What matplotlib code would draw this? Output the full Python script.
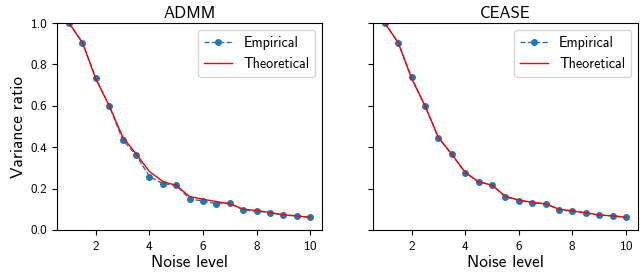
import numpy as np
import matplotlib
matplotlib.use("Agg")
import matplotlib.pyplot as plt

plt.rcParams['font.family'] = ['cmss10', 'DejaVu Sans']
plt.rcParams['axes.formatter.use_mathtext'] = True

noise = [1, 1.5, 2, 2.5, 3, 3.5, 4, 4.5, 5, 5.5, 6, 6.5, 7, 7.5, 8, 8.5, 9, 9.5, 10]

admm_emp = [1.0, 0.906, 0.734, 0.600, 0.435, 0.363, 0.258, 0.224, 0.215, 0.150,
            0.139, 0.127, 0.129, 0.097, 0.090, 0.084, 0.070, 0.069, 0.060]
admm_theo = [1.0, 0.905, 0.730, 0.600, 0.450, 0.368, 0.282, 0.234, 0.215, 0.161,
             0.148, 0.137, 0.126, 0.100, 0.094, 0.084, 0.073, 0.068, 0.060]

cease_emp = [1.0, 0.906, 0.737, 0.600, 0.445, 0.365, 0.276, 0.232, 0.218, 0.160,
             0.142, 0.131, 0.127, 0.098, 0.090, 0.082, 0.071, 0.068, 0.061]
cease_theo = [1.0, 0.905, 0.732, 0.600, 0.447, 0.366, 0.278, 0.233, 0.216, 0.162,
              0.145, 0.133, 0.126, 0.100, 0.092, 0.083, 0.072, 0.068, 0.061]

titles = ["ADMM", "CEASE"]
emp = [admm_emp, cease_emp]
theo = [admm_theo, cease_theo]

fig, axes = plt.subplots(1, 2, figsize=(6.4, 2.75), dpi=100, sharey=True)
fig.subplots_adjust(left=0.089, right=0.997, top=0.916, bottom=0.164, wspace=0.19)

for i, ax in enumerate(axes):
    ax.plot(noise, emp[i], linestyle='--', marker='o', markersize=4,
            color='#1f77b4', linewidth=1, label='Empirical')
    ax.plot(noise, theo[i], color='red', linewidth=1, label='Theoretical')
    ax.set_title(titles[i], fontsize=12, pad=4)
    ax.set_xlabel("Noise level", fontsize=12.5, labelpad=2)
    ax.set_ylim(0, 1.0)
    ax.set_xticks([2, 4, 6, 8, 10])
    ax.set_yticks([0, 0.2, 0.4, 0.6, 0.8, 1.0])
    ax.set_yticklabels(["0.0", "0.2", "0.4", "0.6", "0.8", "1.0"])
    ax.tick_params(labelsize=9.5)
    ax.legend(loc='upper right', fontsize=10.2, borderaxespad=0.5)

axes[0].set_ylabel("Variance ratio", fontsize=12.5, labelpad=3)

plt.savefig("out.png", dpi=100)
